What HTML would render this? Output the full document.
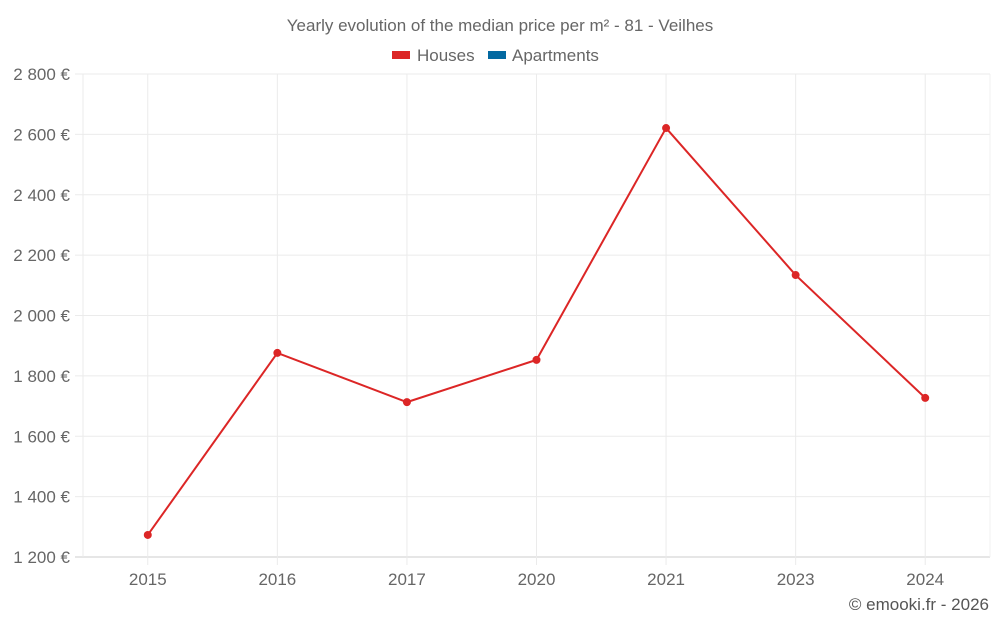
<!DOCTYPE html>
<html><head><meta charset="utf-8"><style>
body{margin:0;background:#fff;font-family:"Liberation Sans",sans-serif;}
svg text{font-family:"Liberation Sans",sans-serif;}
</style></head><body>
<svg id="chart" width="1000" height="625" xmlns="http://www.w3.org/2000/svg">
<text x="500" y="31" text-anchor="middle" font-size="17" fill="#666">Yearly evolution of the median price per m² - 81 - Veilhes</text>
<g><rect x="392" y="51" width="18" height="8" fill="#dc2626"/><text x="417" y="61" font-size="17" fill="#666">Houses</text></g>
<g><rect x="488" y="51" width="18" height="8" fill="#0369a1"/><text x="512" y="61" font-size="17" fill="#666">Apartments</text></g>
<g id="grid"></g><g id="axes"></g><g id="series"></g>
<text x="989" y="610" text-anchor="end" font-size="17" fill="#555">© emooki.fr - 2026</text>
</svg>
<script>
const categories=["2015","2016","2017","2020","2021","2023","2024"];
const houses=[1273,1876,1713,1853,2621,2134,1727];
const yTicks=[1200,1400,1600,1800,2000,2200,2400,2600,2800];
const NS="http://www.w3.org/2000/svg";
const L=83,R=990,T=74,B=557,yMin=1200,yMax=2800;
const bw=(R-L)/categories.length;
const x=i=>L+bw*(i+0.5);
const y=v=>B-(v-yMin)/(yMax-yMin)*(B-T);
function mk(tag,attrs,parent){const e=document.createElementNS(NS,tag);for(const k in attrs)e.setAttribute(k,attrs[k]);document.getElementById(parent).appendChild(e);return e;}
yTicks.forEach(v=>{
  const g=mk("line",{x1:L-8,x2:R,y1:y(v),y2:y(v),stroke:v===yMin?"#ccc":"#ebebeb"},"grid");
  
  
  const t=mk("text",{x:70,y:y(v)+6,"text-anchor":"end","font-size":"17",fill:"#666"},"axes");
  t.textContent=String(v).replace(/\B(?=(\d{3})+$)/," ")+" €";
  
  
});
const la=mk("line",{x1:L,x2:L,y1:T,y2:B,stroke:"#ebebeb"},"grid");


const ra=mk("line",{x1:R,x2:R,y1:T,y2:B,stroke:"#f0f0f0"},"grid");


categories.forEach((c,i)=>{
  const g=mk("line",{x1:x(i),x2:x(i),y1:T,y2:B+8,stroke:"#ebebeb"},"grid");
  
  
  const t=mk("text",{x:x(i),y:585,"text-anchor":"middle","font-size":"17",fill:"#666"},"axes");
  t.textContent=c;
  
  
});
const line=mk("polyline",{points:houses.map((v,i)=>x(i)+","+y(v)).join(" "),fill:"none",stroke:"#dc2626","stroke-width":"2"},"series");


houses.forEach((v,i)=>{
  const p=mk("circle",{cx:x(i),cy:y(v),r:4,fill:"#dc2626"},"series");
  
  
});
</script>
</body></html>
